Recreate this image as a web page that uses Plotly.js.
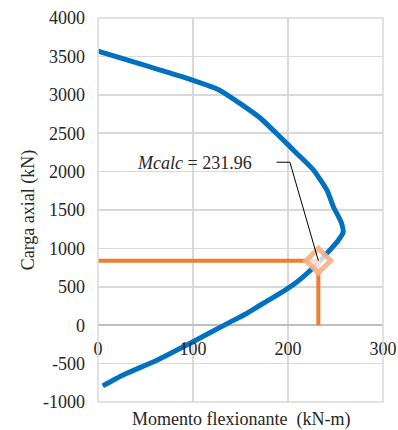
<!DOCTYPE html>
<html><head><meta charset="utf-8">
<script src="https://cdn.plot.ly/plotly-3.0.1.min.js"></script>
<style>html,body{margin:0;padding:0;background:#fff}#chart{width:398px;height:430px}</style>
</head><body><div id="chart"></div>
<script>
// Interaction curve (Momento kN-m, Carga kN)
const curveM = [0, 86, 128, 149, 171, 192, 209, 227, 241, 248, 256, 258, 253, 244, 227, 209, 192, 174, 157, 139, 97, 62, 26, 5];
const curveP = [3570, 3245, 3060, 2891, 2695, 2448, 2240, 2018, 1758, 1536, 1341, 1211, 1107, 977, 755, 560, 417, 286, 156, 40, -234, -456, -651, -790];
const Mcalc = 231.96;
const Pu = 840;
const xTicks = [0, 100, 200, 300];
const yTicks = [-1000, -500, 0, 500, 1000, 1500, 2000, 2500, 3000, 3500, 4000];

const serif = '"Liberation Serif", "Times New Roman", Times, serif';
const tickFont = {family: serif, size: 18, color: '#262626'};
const titleFont = {family: serif, size: 18, color: '#262626'};

const traces = [
  {x: curveM, y: curveP, mode: 'lines', line: {color: '#0070c0', width: 5, shape: 'spline', smoothing: 0.5}, hoverinfo: 'skip'},
  {x: [0, Mcalc, Mcalc], y: [Pu, Pu, 0], mode: 'lines', line: {color: '#ed7d31', width: 4}, hoverinfo: 'skip'},
  {x: [Mcalc], y: [Pu], mode: 'markers', marker: {symbol: 'diamond', size: 19, color: 'rgba(255,255,255,0.75)', line: {color: 'rgba(244,177,131,0.9)', width: 5}}, hoverinfo: 'skip'}
];

const layout = {
  width: 398, height: 430,
  margin: {l: 98, r: 15, t: 18, b: 28},
  paper_bgcolor: '#fff', plot_bgcolor: '#fff',
  showlegend: false,
  font: tickFont,
  xaxis: {
    range: [0, 300], tickvals: xTicks, ticktext: xTicks.map(String),
    showgrid: true, gridcolor: '#d9d9d9', gridwidth: 1.5,
    zeroline: false, showline: false, ticks: '',
    anchor: 'free', position: 0.2, tickfont: tickFont, ticklabelstandoff: 11
  },
  yaxis: {
    range: [-1000, 4000], tickvals: yTicks, ticktext: yTicks.map(String),
    showgrid: true, gridcolor: '#d9d9d9', gridwidth: 1.5,
    zeroline: true, zerolinecolor: '#bfbfbf', zerolinewidth: 1.5,
    showline: false, ticks: '', tickfont: tickFont, ticklabelstandoff: 12,
    title: {text: 'Carga axial (kN)', font: titleFont, standoff: 3}
  },
  shapes: [
    {type: 'rect', xref: 'paper', yref: 'paper', x0: 0, x1: 1, y0: 0, y1: 1, line: {color: '#d9d9d9', width: 1.5}},
    {type: 'path', xref: 'x', yref: 'y', path: 'M 188,2122 L 202,2122 L ' + Mcalc + ',' + Pu, line: {color: '#000', width: 1}}
  ],
  annotations: [
    {xref: 'x', yref: 'y', x: 102, y: 2110, text: '<i>Mcalc</i> = ' + Mcalc.toFixed(2), showarrow: false, font: titleFont},
    {xref: 'paper', yref: 'paper', x: 0.5, y: 0, yshift: -5, yanchor: 'top', text: 'Momento flexionante  (kN-m)', showarrow: false, font: titleFont}
  ]
};

Plotly.newPlot('chart', traces, layout, {displayModeBar: false, staticPlot: true});
</script>
</body></html>
